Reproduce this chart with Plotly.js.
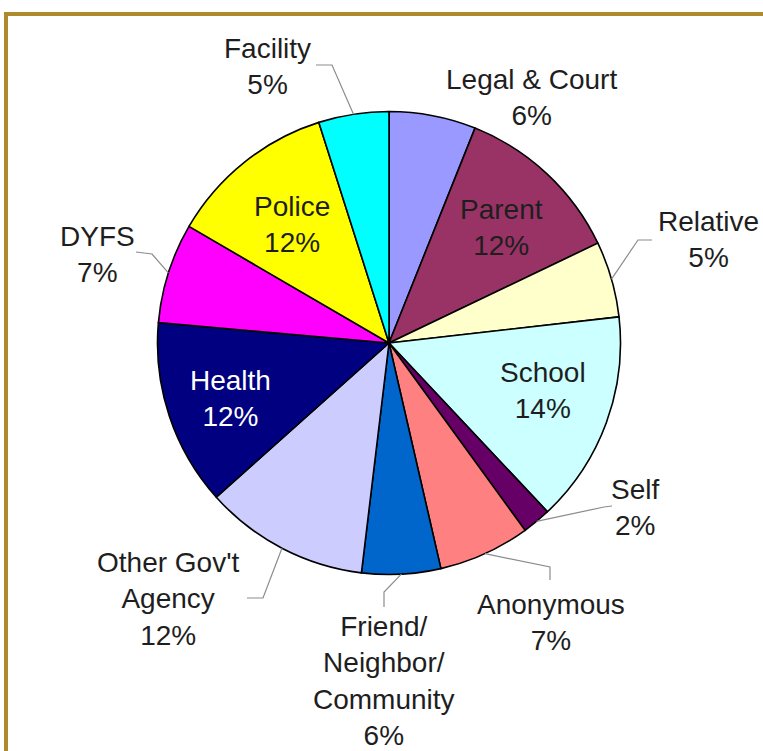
<!DOCTYPE html>
<html>
<head>
<meta charset="utf-8">
<script src="https://cdn.plot.ly/plotly-3.0.1.min.js"></script>
<style>
  html, body { margin: 0; padding: 0; background: #ffffff; }
  #chart { width: 763px; height: 751px; }
</style>
</head>
<body>
<div id="chart"></div>
<script>
// ---- data ----
var categories = ["Legal & Court", "Parent", "Relative", "School", "Self", "Anonymous",
                  "Friend/<br>Neighbor/<br>Community", "Other Gov't<br>Agency", "Health", "DYFS", "Police", "Facility"];
var shares = [6.06, 11.84, 5.3, 14.8, 2.0, 6.4, 5.5, 11.5, 13.0, 7.0, 11.7, 4.9];
var pctLabels = [6, 12, 5, 14, 2, 7, 6, 12, 12, 7, 12, 5];

// ---- styles / layout helpers ----
var colors = ["#9999FF", "#993366", "#FFFFCC", "#CCFFFF", "#660066", "#FF8080",
              "#0066CC", "#CCCCFF", "#000080", "#FF00FF", "#FFFF00", "#00FFFF"];
var W = 763, H = 751;
var CX = 389, CY = 343, R = 231.5;
// label block centres (px)
var labelPos = [[531, 98], [501, 228], [708, 240], [543, 390], [635, 507], [551, 622],
                [384, 681], [168, 599], [230, 398], [97, 254], [292, 224], [267, 67]];
var labelColor = ["#1e1e1e", "#1e1e1e", "#1e1e1e", "#1e1e1e", "#1e1e1e", "#1e1e1e",
                  "#1e1e1e", "#1e1e1e", "#ffffff", "#1e1e1e", "#1e1e1e", "#1e1e1e"];
// leader line waypoints after the slice edge (px); null = no leader
var leaders = [null, null, [[638, 240], [652, 240]], null, [[604, 507], [612, 506]],
               [[550, 567], [550, 580]], [[384, 592], [384, 607]], [[263, 598], [247, 598]],
               null, [[152, 254], [136, 252]], null, [[332, 65], [316, 65]]];

function px2x(x) { return x / W; }
function px2y(y) { return 1 - y / H; }

var total = shares.reduce(function (a, b) { return a + b; }, 0);
var annotations = [];
var shapes = [];
var cum = 0;
for (var i = 0; i < shares.length; i++) {
  var mid = (cum + shares[i] / 2) / total * 2 * Math.PI;
  cum += shares[i];
  annotations.push({
    xref: "paper", yref: "paper",
    x: px2x(labelPos[i][0]), y: px2y(labelPos[i][1]),
    xanchor: "center", yanchor: "middle", align: "center",
    showarrow: false,
    text: categories[i] + "<br>" + pctLabels[i] + "%",
    font: { family: "Liberation Sans, Arial, sans-serif", size: 28, color: labelColor[i] }
  });
  if (leaders[i]) {
    var ex = CX + R * Math.sin(mid), ey = CY - R * Math.cos(mid);
    var p = "M " + px2x(ex) + "," + px2y(ey);
    leaders[i].forEach(function (pt) { p += " L " + px2x(pt[0]) + "," + px2y(pt[1]); });
    shapes.push({ type: "path", xref: "paper", yref: "paper", path: p,
                  line: { color: "#8c8c8c", width: 1.2 } });
  }
}
// frame
shapes.push({ type: "line", xref: "paper", yref: "paper",
              x0: px2x(4), x1: px2x(W + 10), y0: px2y(14), y1: px2y(14),
              line: { color: "#AD8A2B", width: 4 } });
shapes.push({ type: "line", xref: "paper", yref: "paper",
              x0: px2x(6), x1: px2x(6), y0: px2y(12), y1: px2y(H + 10),
              line: { color: "#AD8A2B", width: 4 } });

var trace = {
  type: "pie",
  labels: categories,
  values: shares,
  sort: false,
  direction: "clockwise",
  rotation: 0,
  textinfo: "none",
  hoverinfo: "label+percent",
  marker: { colors: colors, line: { color: "#000000", width: 1.6 } },
  domain: { x: [px2x(CX - R), px2x(CX + R)], y: [px2y(CY + R), px2y(CY - R)] }
};

var layout = {
  width: W, height: H,
  margin: { l: 0, r: 0, t: 0, b: 0 },
  paper_bgcolor: "#ffffff",
  showlegend: false,
  annotations: annotations,
  shapes: shapes
};

Plotly.newPlot("chart", [trace], layout, { displayModeBar: false, staticPlot: true });
</script>
</body>
</html>
